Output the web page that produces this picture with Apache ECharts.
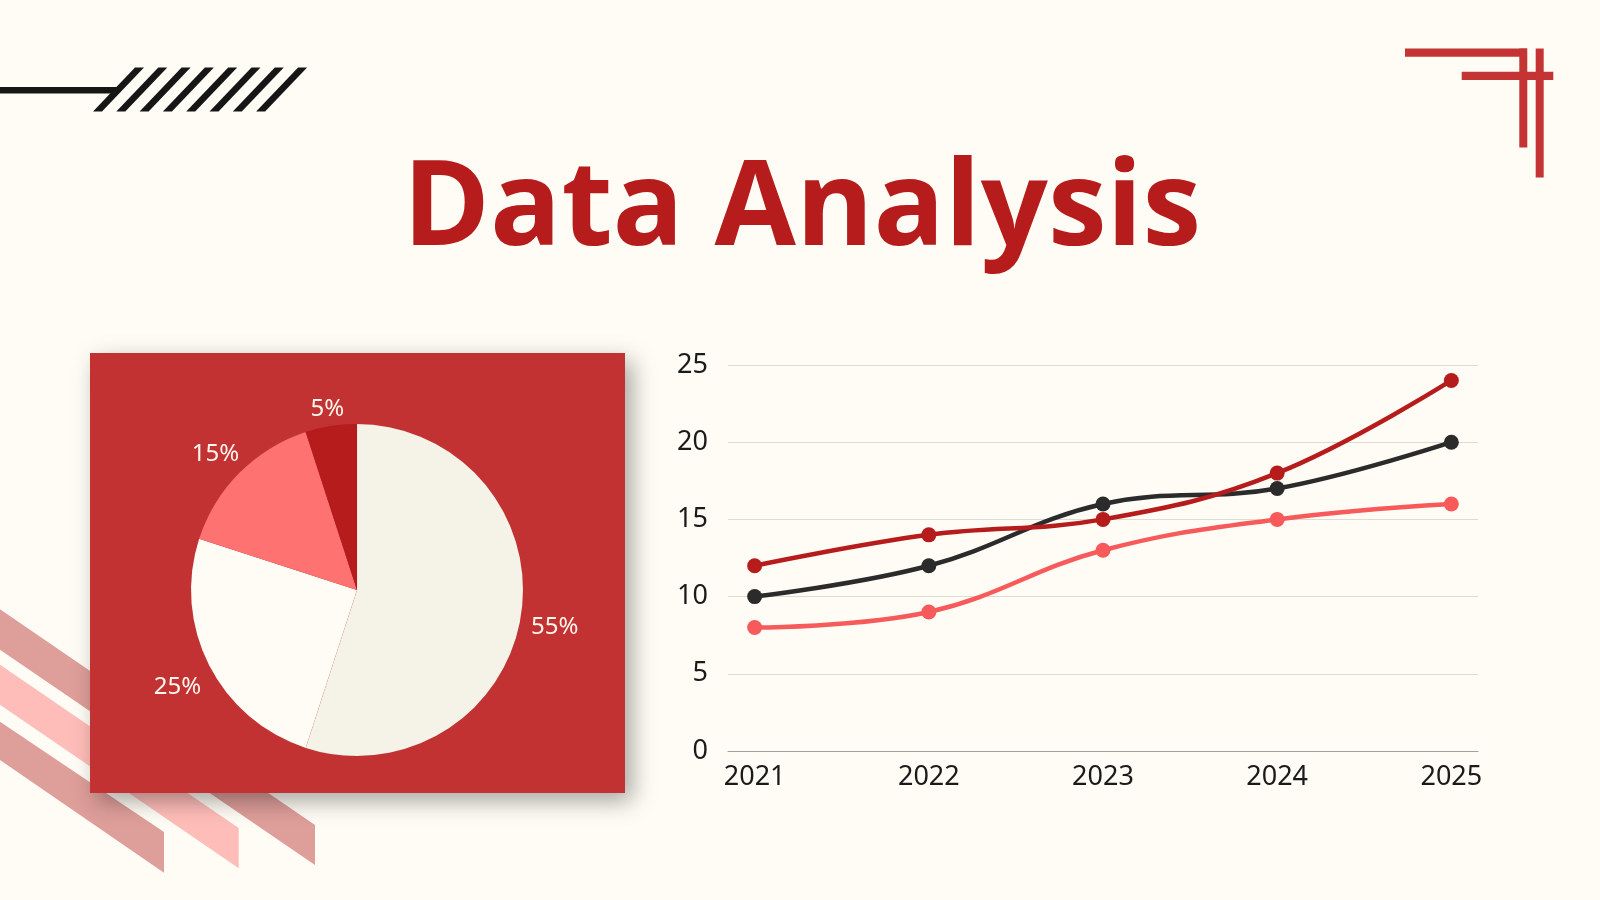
<!DOCTYPE html>
<html>
<head>
<meta charset="utf-8">
<script src="https://cdn.jsdelivr.net/npm/echarts@6/dist/echarts.min.js"></script>
<style>
html,body{margin:0;padding:0;background:#fffcf5;}
#chart{width:1600px;height:900px;}
</style>
</head>
<body>
<div id="chart"></div>
<script>
const years = ['2021', '2022', '2023', '2024', '2025'];
const seriesDarkRed = [12, 14, 15, 18, 24];
const seriesCharcoal = [10, 12, 16, 17, 20];
const seriesCoral = [8, 9, 13, 15, 16];
const pieLabels = ['55%', '25%', '15%', '5%'];
const pieValues = [55, 25, 15, 5];
const titleText = 'Data Analysis';

const chart = echarts.init(document.getElementById('chart'));

const stripes = [];
for (let k = 0; k < 8; k++) {
  const bl = 93 + 23.3 * k;
  stripes.push({
    type: 'polygon', z: 1,
    shape: { points: [[bl, 111.5], [bl + 9, 111.5], [bl + 51, 67.5], [bl + 42, 67.5]] },
    style: { fill: '#161616' }
  });
}

const deco = [
  { type: 'rect', z: 1, shape: { x: 0, y: 87, width: 118, height: 6.5 }, style: { fill: '#161616' } },
  ...stripes,
  // top-right red corner
  { type: 'rect', z: 1, shape: { x: 1405, y: 48.5, width: 122, height: 8.3 }, style: { fill: '#c43434' } },
  { type: 'rect', z: 1, shape: { x: 1519.3, y: 48.5, width: 8, height: 99 }, style: { fill: '#c43434' } },
  { type: 'rect', z: 1, shape: { x: 1461.7, y: 71.7, width: 91.6, height: 8.3 }, style: { fill: '#c43434' } },
  { type: 'rect', z: 1, shape: { x: 1535.7, y: 48.5, width: 8, height: 129 }, style: { fill: '#c43434' } },
  // bottom-left bands
  { type: 'polygon', z: 1, shape: { points: [[-10, 602.5], [315, 825], [315, 865], [-10, 643]] }, style: { fill: '#de9e9a' } },
  { type: 'polygon', z: 1, shape: { points: [[-10, 658], [238.7, 828], [238.7, 868.3], [-10, 698]] }, style: { fill: '#ffbdb9' } },
  { type: 'polygon', z: 1, shape: { points: [[-10, 715], [164, 832], [164, 872.7], [-10, 753]] }, style: { fill: '#de9e9a' } },
  // pie panel
  { type: 'rect', z: 2, shape: { x: 90, y: 353, width: 535, height: 440 },
    style: { fill: '#c33232', shadowBlur: 22, shadowOffsetX: 7, shadowOffsetY: 8, shadowColor: 'rgba(0,0,0,0.35)' } },
  // title
  { type: 'text', z: 3, x: 802, y: 211.5,
    style: { text: titleText, fill: '#b71c1c', font: '700 118px "Open Sans"', textAlign: 'center', textVerticalAlign: 'middle' } }
];

const pieColors = ['#f5f2e7', '#fffcf6', '#ff7272', '#b71c1c'];
const pieCenter = [357, 590];
const pieRadius = 166;
const labelGapRadius = 175;

// mid-angles of slices (clockwise from 12 o'clock)
const total = pieValues.reduce((a, b) => a + b, 0);
const midAngles = [];
let acc = 0;
pieValues.forEach(v => { midAngles.push((acc + v / 2) / total * 2 * Math.PI); acc += v; });

const option = {
  backgroundColor: '#fffcf5',
  animation: false,
  textStyle: { fontFamily: 'Noto Sans' },
  graphic: { elements: deco },
  grid: { left: 728, right: 122, top: 365, bottom: 149 },
  xAxis: {
    type: 'value',
    min: 2021 - 0.153,
    max: 2025 + 0.153,
    axisLine: { show: true, lineStyle: { color: '#a0a0a0', width: 1 } },
    axisTick: { show: false },
    splitLine: { show: false },
    axisLabel: {
      customValues: years.map(Number),
      formatter: v => String(v),
      color: '#1a1a1a', fontSize: 27, margin: 13, fontFamily: 'Noto Sans'
    }
  },
  yAxis: {
    type: 'value', min: 0, max: 25, interval: 5,
    axisLine: { show: false }, axisTick: { show: false },
    splitLine: { lineStyle: { color: '#dcdcd6', width: 1 } },
    axisLabel: { color: '#1a1a1a', fontSize: 27, margin: 20, fontFamily: 'Noto Sans' }
  },
  series: [
    {
      type: 'pie', z: 5, center: pieCenter, radius: pieRadius, startAngle: 90, clockwise: true,
      data: pieValues.map((v, i) => ({ value: v, name: pieLabels[i], itemStyle: { color: pieColors[i] } })),
      itemStyle: { borderColor: 'rgba(0,0,0,0.06)', borderWidth: 0.6 },
      label: { show: true, position: 'outside', formatter: p => p.name, color: '#fff6ee', fontSize: 24, fontFamily: 'Noto Sans' },
      labelLine: { show: false, length: 6, length2: 4 },
      labelLayout: function (params) {
        const a = midAngles[params.dataIndex];
        const ux = Math.sin(a), uy = -Math.cos(a);
        const w = params.labelRect.width, h = params.labelRect.height;
        const support = (w / 2) * Math.abs(ux) + (h / 2) * Math.abs(uy);
        const d = labelGapRadius + support;
        return {
          x: pieCenter[0] + ux * d,
          y: pieCenter[1] + uy * d + 6,
          align: 'center',
          verticalAlign: 'middle'
        };
      },
      emphasis: { disabled: true }
    },
    {
      type: 'line', smooth: 0.4, symbol: 'circle', symbolSize: 15,
      data: years.map((y, i) => [Number(y), seriesCoral[i]]),
      lineStyle: { color: '#f65a5a', width: 4.5 }, itemStyle: { color: '#f65a5a' }
    },
    {
      type: 'line', smooth: 0.4, symbol: 'circle', symbolSize: 15,
      data: years.map((y, i) => [Number(y), seriesCharcoal[i]]),
      lineStyle: { color: '#2b2b2b', width: 4.5 }, itemStyle: { color: '#2b2b2b' }
    },
    {
      type: 'line', smooth: 0.4, symbol: 'circle', symbolSize: 15,
      data: years.map((y, i) => [Number(y), seriesDarkRed[i]]),
      lineStyle: { color: '#b71c1c', width: 4.5 }, itemStyle: { color: '#b71c1c' }
    }
  ]
};
chart.setOption(option);
</script>
</body>
</html>
